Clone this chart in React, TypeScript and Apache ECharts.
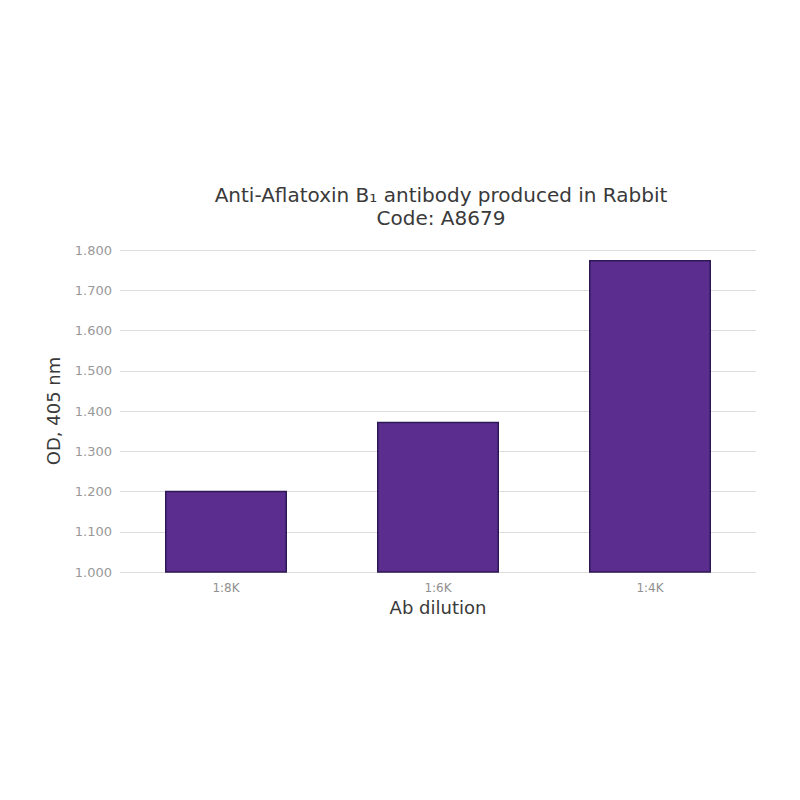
import React, { useEffect, useRef } from "react";
import * as echarts from "echarts";

const categories = ["1:8K", "1:6K", "1:4K"];
const odValues = [1.202, 1.373, 1.775];
const yMin = 1.0;
const yMax = 1.8;
const yStep = 0.1;

export default function App() {
  const ref = useRef<HTMLDivElement>(null);
  useEffect(() => {
    document.body.style.margin = "0";
    const chart = echarts.init(ref.current!, null, { renderer: "svg" });
    const font = "DejaVu Sans";
    chart.setOption({
      animation: false,
      backgroundColor: "#ffffff",
      title: {
        text: "Anti-Aflatoxin B\u2081 antibody produced in Rabbit\nCode: A8679",
        left: 436,
        top: 178,
        textAlign: "center",
        textStyle: {
          fontFamily: font,
          fontSize: 20,
          fontWeight: "normal",
          color: "#3a3a3a",
          lineHeight: 23,
        },
      },
      grid: { left: 120, right: 44, top: 250, bottom: 228, containLabel: false },
      xAxis: {
        type: "category",
        data: categories,
        name: "Ab dilution",
        nameLocation: "middle",
        nameGap: 26,
        nameTextStyle: { fontFamily: font, fontSize: 18, color: "#3a3a3a" },
        axisLine: { show: false },
        axisTick: { show: false },
        axisLabel: { fontFamily: font, fontSize: 12, color: "#909090", margin: 10 },
      },
      yAxis: {
        type: "value",
        min: yMin,
        max: yMax,
        interval: yStep,
        name: "OD, 405 nm",
        nameLocation: "middle",
        nameGap: 58,
        nameTextStyle: { fontFamily: font, fontSize: 18, color: "#3a3a3a" },
        axisLine: { show: false },
        axisTick: { show: false },
        axisLabel: {
          fontFamily: font,
          fontSize: 13,
          color: "#999999",
          margin: 8,
          formatter: (v: number) => v.toFixed(3),
        },
        splitLine: { lineStyle: { color: "#dddddd", width: 1 } },
      },
      series: [
        {
          type: "bar",
          data: odValues,
          barWidth: 122,
          itemStyle: { color: "#5b2d8e", borderColor: "#2e1856", borderWidth: 1.5 },
        },
      ],
    });
    return () => chart.dispose();
  }, []);
  return <div ref={ref} style={{ width: 800, height: 800 }} />;
}
